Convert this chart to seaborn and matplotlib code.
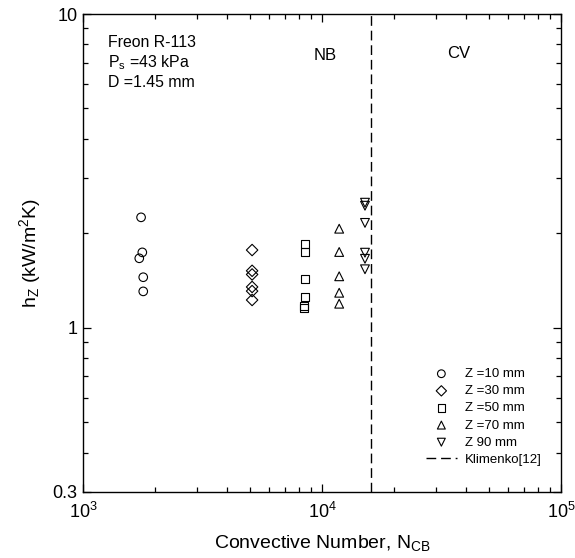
import matplotlib
matplotlib.use("Agg")
import matplotlib.pyplot as plt
import seaborn as sns
import pandas as pd
from matplotlib.ticker import FixedLocator, LogLocator, NullFormatter, FixedFormatter

sns.set_theme(style="ticks")
plt.rcParams['font.family'] = ['Liberation Sans', 'DejaVu Sans']
plt.rcParams['mathtext.fontset'] = 'custom'
plt.rcParams['mathtext.rm'] = 'Liberation Sans'
plt.rcParams['mathtext.it'] = 'Liberation Sans:italic'
plt.rcParams['text.color'] = 'black'
plt.rcParams['axes.labelcolor'] = 'black'

# ── Data ─────────────────────────────────────────────
z10_x = [1750, 1771, 1720, 1787, 1787]
z10_h = [2.25, 1.74, 1.666, 1.45, 1.307]
z30_x = [5100, 5100, 5100, 5100, 5100, 5100]
z30_h = [1.77, 1.52, 1.48, 1.35, 1.31, 1.227]
z50_x = [8490, 8490, 8490, 8490, 8440, 8440]
z50_h = [1.846, 1.748, 1.428, 1.257, 1.174, 1.154]
z70_x = [11800, 11800, 11800, 11800, 11800]
z70_h = [2.07, 1.745, 1.46, 1.294, 1.194]
z90_x = [15130, 15130, 15130, 15130, 15130, 15130]
z90_h = [2.505, 2.45, 2.16, 1.736, 1.66, 1.537]

klimenko_ncb = 1.6e4
series_labels = ["Z =10 mm", "Z =30 mm", "Z =50 mm", "Z =70 mm", "Z 90 mm"]
series_markers = ["o", "D", "s", "^", "v"]

frames = []
for lab, xs, hs in zip(series_labels,
                       [z10_x, z30_x, z50_x, z70_x, z90_x],
                       [z10_h, z30_h, z50_h, z70_h, z90_h]):
    frames.append(pd.DataFrame({"ncb": xs, "h": hs, "series": lab}))
df = pd.concat(frames, ignore_index=True)

fig = plt.figure(figsize=(5.75, 5.58), dpi=100)
ax = fig.add_axes([0.1443, 0.1183, 0.8314, 0.8566])

sizes = {"o": 38, "D": 34, "s": 34, "^": 40, "v": 40}
for lab, mk in zip(series_labels, series_markers):
    sub = df[df["series"] == lab]
    sns.scatterplot(data=sub, x="ncb", y="h", marker=mk, s=sizes[mk],
                    facecolor="none", edgecolor="black", linewidth=0.8,
                    label=lab, ax=ax, legend=False)

ax.axvline(klimenko_ncb, color="black", lw=1, linestyle=(0, (7, 3.5)),
           label="Klimenko[12]")

ax.set_xscale("log")
ax.set_yscale("log")
ax.set_xlim(1e3, 1e5)
ax.set_ylim(0.3, 10)

ax.yaxis.set_major_locator(FixedLocator([0.3, 1, 10]))
ax.yaxis.set_major_formatter(FixedFormatter(["0.3", "1", "10"]))
ax.yaxis.set_minor_locator(LogLocator(base=10, subs=range(2, 10)))
ax.yaxis.set_minor_formatter(NullFormatter())
ax.xaxis.set_minor_locator(LogLocator(base=10, subs=range(2, 10)))
ax.xaxis.set_minor_formatter(NullFormatter())

ax.tick_params(which="both", direction="in", top=True, right=True,
               colors="black", labelsize=13, width=0.9)
ax.tick_params(which="major", length=6)
ax.tick_params(which="minor", length=3.5)
ax.tick_params(axis="x", which="major", pad=7)
ax.tick_params(axis="y", which="major", pad=4)
for sp in ax.spines.values():
    sp.set_color("black")
    sp.set_linewidth(1)

ax.set_xlabel(r"Convective Number, N$_\mathregular{CB}$", fontsize=14, labelpad=8)
ax.set_ylabel(r"h$_\mathregular{Z}$ (kW/m$^\mathregular{2}$K)", fontsize=14, labelpad=7)

ax.text(0.052, 0.931, "Freon R-113", transform=ax.transAxes, fontsize=11.4, va="baseline")
ax.text(0.052, 0.889, r"P$_\mathregular{s}$ =43 kPa", transform=ax.transAxes, fontsize=11.4, va="baseline")
ax.text(0.052, 0.847, "D =1.45 mm", transform=ax.transAxes, fontsize=11.4, va="baseline")
ax.text(0.506, 0.904, "NB", transform=ax.transAxes, fontsize=12, ha="center", va="baseline")
ax.text(0.785, 0.908, "CV", transform=ax.transAxes, fontsize=12, ha="center", va="baseline")

ax.legend(loc="lower right", bbox_to_anchor=(0.985, 0.03), frameon=False,
          fontsize=9.5, labelspacing=0.37, handlelength=2.4, handletextpad=0.6,
          markerscale=0.9)

fig.savefig("out.png", dpi=100)
